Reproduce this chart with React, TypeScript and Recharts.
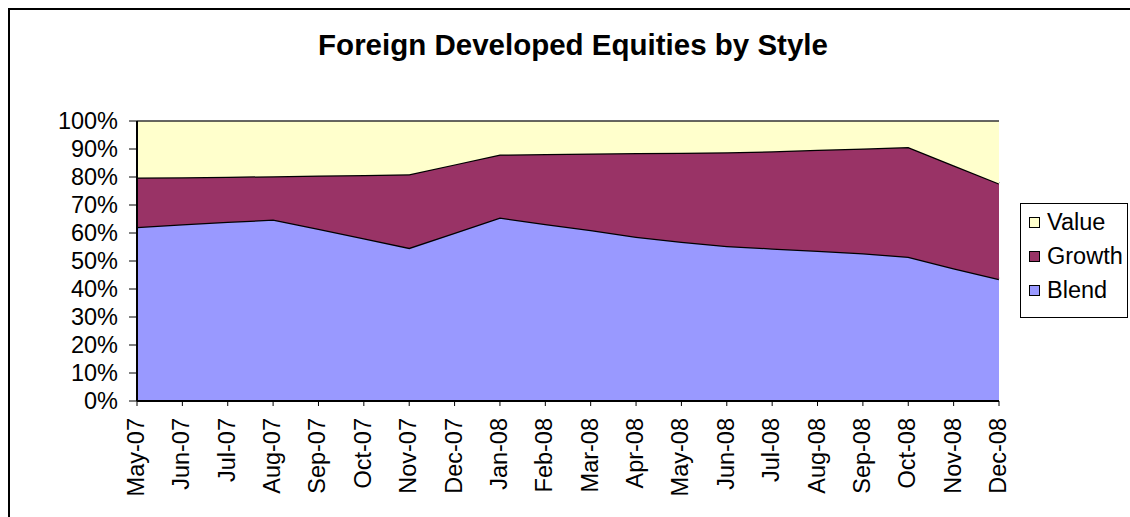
import { AreaChart, Area, XAxis, YAxis } from 'recharts'

const months = [
  'May-07', 'Jun-07', 'Jul-07', 'Aug-07', 'Sep-07', 'Oct-07', 'Nov-07', 'Dec-07',
  'Jan-08', 'Feb-08', 'Mar-08', 'Apr-08', 'May-08', 'Jun-08', 'Jul-08', 'Aug-08',
  'Sep-08', 'Oct-08', 'Nov-08', 'Dec-08',
]

// shares in percent
const blend = [62.1, 63.1, 64.0, 64.8, 61.5, 58.1, 54.7, 60.1, 65.5, 63.2, 61.1, 58.7, 56.9, 55.4, 54.5, 53.7, 52.8, 51.5, 47.4, 43.6]
const growth = [17.7, 16.8, 16.1, 15.5, 19.0, 22.6, 26.3, 24.4, 22.5, 25.0, 27.3, 29.9, 31.8, 33.4, 34.7, 36.0, 37.4, 39.2, 36.8, 34.1]
const value = [20.2, 20.1, 19.9, 19.7, 19.5, 19.3, 19.0, 15.5, 12.0, 11.8, 11.6, 11.4, 11.3, 11.2, 10.8, 10.3, 9.8, 9.3, 15.8, 22.3]

const yTicks = [0, 10, 20, 30, 40, 50, 60, 70, 80, 90, 100]

const series = [
  { key: 'Value', color: '#FFFFCC' },
  { key: 'Growth', color: '#993366' },
  { key: 'Blend', color: '#9999FF' },
]

const data = months.map((m, i) => ({ month: m, Blend: blend[i], Growth: growth[i], Value: value[i] }))

const FONT = '"Liberation Sans", Arial, sans-serif'

function MonthTick({ x, y, payload }: any) {
  return (
    <g transform={`translate(${x},${y})`}>
      <text
        transform="rotate(-90)"
        x={-10}
        y={7}
        textAnchor="end"
        fontFamily={FONT}
        fontSize={23.5}
        fill="#000"
      >
        {payload.value}
      </text>
    </g>
  )
}

export default function App() {
  return (
    <div style={{ position: 'absolute', left: 0, top: 0, width: 1130, height: 517, overflow: 'hidden', background: '#fff' }}>
      <div
        style={{
          position: 'absolute',
          left: 8,
          top: 8,
          width: 1200,
          height: 600,
          borderLeft: '2px solid #000',
          borderTop: '2px solid #000',
        }}
      />
      <div
        style={{
          position: 'absolute',
          left: 273,
          width: 600,
          top: 31,
          lineHeight: '28px',
          textAlign: 'center',
          fontFamily: FONT,
          fontWeight: 'bold',
          fontSize: 29.5,
          color: '#000',
        }}
      >
        Foreign Developed Equities by Style
      </div>
      <div style={{ position: 'absolute', left: 0, top: 0 }}>
        <AreaChart
          width={1130}
          height={517}
          data={data}
          margin={{ top: 121, right: 131, bottom: 0, left: 0 }}
        >
          <XAxis
            dataKey="month"
            interval={0}
            tick={<MonthTick />}
            tickSize={5}
            height={116}
            axisLine={{ stroke: '#000', strokeWidth: 2 }}
            tickLine={{ stroke: '#000', strokeWidth: 1 }}
          />
          <YAxis
            domain={[0, 100]}
            ticks={yTicks}
            interval={0}
            width={137}
            tickSize={8}
            tickMargin={11}
            tickFormatter={(v: number) => `${v}%`}
            tick={{ fontFamily: FONT, fontSize: 23.5, fill: '#000' }}
            axisLine={{ stroke: '#000', strokeWidth: 2 }}
            tickLine={{ stroke: '#000', strokeWidth: 1 }}
          />
          <YAxis
            yAxisId="frame"
            orientation="right"
            width={0}
            tick={false}
            tickLine={false}
            axisLine={{ stroke: '#000', strokeWidth: 2 }}
          />
          <Area
            type="linear"
            dataKey="Blend"
            stackId="s"
            fill="#9999FF"
            fillOpacity={1}
            stroke="#000"
            strokeWidth={2.5}
            isAnimationActive={false}
          />
          <Area
            type="linear"
            dataKey="Growth"
            stackId="s"
            fill="#993366"
            fillOpacity={1}
            stroke="#000"
            strokeWidth={2.5}
            isAnimationActive={false}
          />
          <Area
            type="linear"
            dataKey="Value"
            stackId="s"
            fill="#FFFFCC"
            fillOpacity={1}
            stroke="#333"
            strokeWidth={1.5}
            isAnimationActive={false}
          />
        </AreaChart>
      </div>
      <div
        style={{
          position: 'absolute',
          left: 1020,
          top: 203,
          width: 108,
          height: 115,
          border: '1px solid #000',
          boxSizing: 'border-box',
          fontFamily: FONT,
          fontSize: 23.5,
          color: '#000',
        }}
      >
        {series.map((s, i) => (
          <div
            key={s.key}
            style={{ position: 'absolute', left: 8, top: 4 + i * 34, height: 28, display: 'flex', alignItems: 'center' }}
          >
            <span
              style={{
                display: 'inline-block',
                width: 9,
                height: 9,
                background: s.color,
                border: '1px solid #000',
                marginRight: 7,
              }}
            />
            <span style={{ lineHeight: '28px' }}>{s.key}</span>
          </div>
        ))}
      </div>
    </div>
  )
}
